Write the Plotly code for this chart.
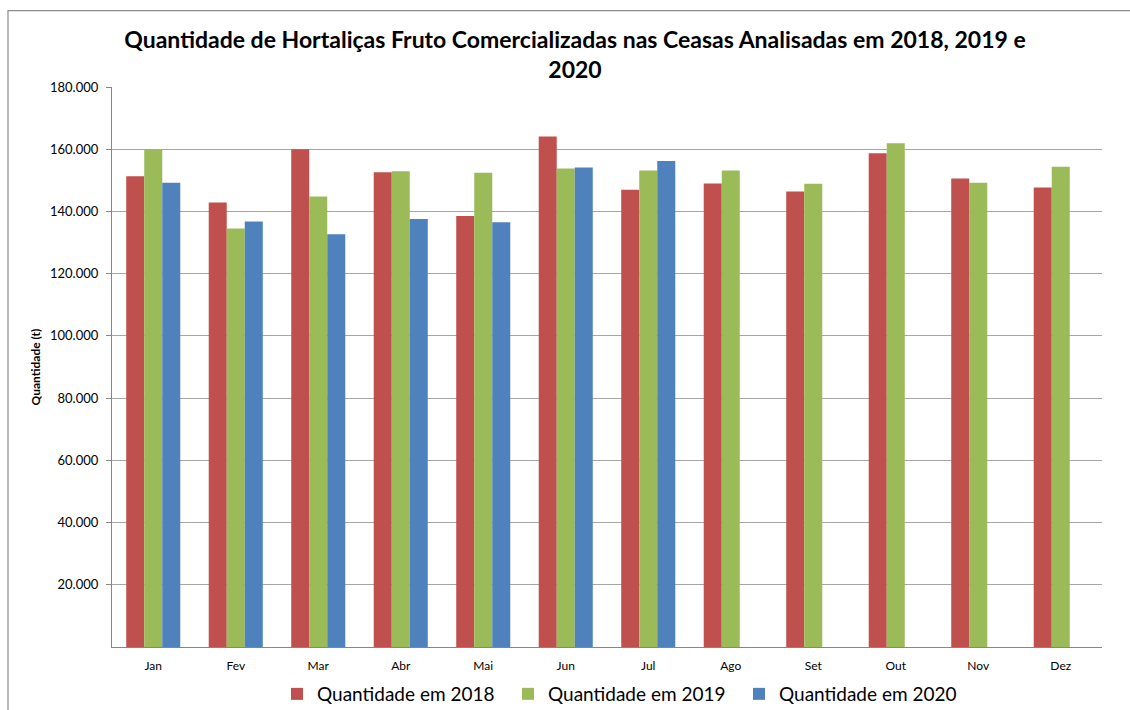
import plotly.graph_objects as go

meses = ["Jan", "Fev", "Mar", "Abr", "Mai", "Jun", "Jul", "Ago", "Set", "Out", "Nov", "Dez"]
q2018 = [151300, 142900, 160000, 152600, 138500, 164100, 147000, 149000, 146400, 158700, 150600, 147700]
q2019 = [160000, 134500, 144800, 152900, 152400, 153800, 153200, 153200, 148900, 161900, 149200, 154400]
q2020 = [149200, 136800, 132700, 137600, 136500, 154100, 156200, None, None, None, None, None]
nomes = ["Quantidade em 2018", "Quantidade em 2019", "Quantidade em 2020"]
cores = ["#C0504D", "#9BBB59", "#4F81BD"]
yticks = [20000, 40000, 60000, 80000, 100000, 120000, 140000, 160000, 180000]
yticktext = ["20.000", "40.000", "60.000", "80.000", "100.000", "120.000", "140.000", "160.000", "180.000"]

fig = go.Figure()
for nome, vals, cor in zip(nomes, [q2018, q2019, q2020], cores):
    fig.add_trace(go.Bar(x=meses, y=vals, name=nome, marker=dict(color=cor, line=dict(width=0))))

FONT = "Lato"
fig.update_layout(
    width=1130, height=710,
    margin=dict(l=112, r=28, t=86.5, b=63, autoexpand=False),
    paper_bgcolor="white", plot_bgcolor="white",
    barmode="group", bargap=0.345, bargroupgap=0,
    font=dict(family=FONT, color="#000000"),
    title=dict(
        text="<b>Quantidade de Hortaliças Fruto Comercializadas nas Ceasas Analisadas em 2018, 2019 e<br>2020</b>",
        x=575 / 1130, xref="container", xanchor="center",
        y=1 - 48 / 710, yref="container", yanchor="top",
        font=dict(family=FONT, size=23, color="#000000"),
    ),
    showlegend=True,
    legend=dict(
        orientation="h", x=277 / 1130, xref="container", xanchor="left",
        y=1 - 694 / 710, yref="container", yanchor="middle",
        font=dict(family=FONT, size=19, color="#000000"),
        entrywidth=186, entrywidthmode="pixels",
        bgcolor="rgba(0,0,0,0)",
    ),
    shapes=[dict(type="rect", xref="paper", yref="paper",
                 x0=(8 - 112) / 990, x1=(1140 - 112) / 990,
                 y0=(647 - 720) / 560.5, y1=(647 - 10) / 560.5,
                 line=dict(color="#8C8C8C", width=1.2), fillcolor="rgba(0,0,0,0)", layer="below")],
)
fig.update_xaxes(
    showline=True, linecolor="#868686", linewidth=1.2, mirror=False,
    ticks="", showgrid=False, automargin=False,
    tickfont=dict(family=FONT, size=12, color="#000000"),
    ticklabelstandoff=7,
)
fig.update_yaxes(
    range=[0, 180000], tickvals=yticks, ticktext=yticktext, automargin=False,
    showline=True, linecolor="#868686", linewidth=1.2,
    showgrid=True, gridcolor="#A6A6A6", gridwidth=1.2,
    ticks="outside", ticklen=5, tickcolor="#868686",
    tickfont=dict(family=FONT, size=13, color="#000000"),
    ticklabelstandoff=5,
    title=dict(text="<b>Quantidade (t)</b>", font=dict(family=FONT, size=12, color="#000000"), standoff=6),
    zeroline=False,
)
fig.write_html("out.html", config={"displayModeBar": False},
               post_script="document.body.style.margin='0';")
